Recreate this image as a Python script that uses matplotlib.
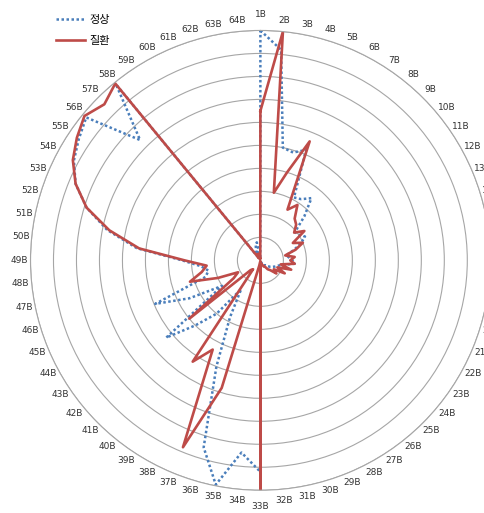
import numpy as np
import matplotlib
matplotlib.use("Agg")
import matplotlib.pyplot as plt

plt.rcParams['font.family'] = ['Noto Sans CJK KR', 'DejaVu Sans']

categories = [f"{i}B" for i in range(1, 65)]

normal = [10.0, 9.2, 5.0, 4.9, 5.2, 3.1, 3.2, 3.5, 2.7, 1.95, 2.0, 2.2, 1.9, 1.5, 1.15, 1.25,
          1.4, 1.5, 1.0, 0.8, 0.7, 0.6, 0.5, 0.4, 0.3, 0.3, 0.2, 0.2, 0.1, 0.1, 0.1, 0.05,
          9.2, 8.4, 9.95, 8.5, 5.0, 2.8, 1.5, 3.0, 4.0, 5.3, 2.0, 3.5, 4.95, 2.5, 2.3, 2.6,
          3.4, 5.4, 6.8, 7.9, 8.7, 9.2, 9.5, 9.8, 7.4, 9.9, 0.1, 0.3, 0.5, 0.7, 0.8, 0.05]

disease = [6.5, 10.0, 3.0, 4.0, 5.6, 2.5, 2.9, 2.35, 2.2, 1.9, 2.3, 1.6, 2.0, 1.6, 1.1, 1.5,
           1.3, 1.5, 0.9, 1.4, 0.8, 1.2, 0.7, 0.9, 0.6, 0.5, 0.3, 0.3, 0.2, 0.2, 0.1, 0.05,
           10.0, 0.05, 0.2, 5.8, 8.8, 4.4, 5.3, 0.5, 0.6, 4.0, 1.4, 1.1, 2.0, 3.2, 2.6, 2.35,
           3.3, 5.3, 6.7, 7.9, 8.7, 9.25, 9.6, 9.9, 9.6, 9.95, 0.1, 0.3, 0.2, 0.3, 0.2, 0.05]

series_names = ["정상", "질환"]

n = len(categories)
angles = np.linspace(0, 2 * np.pi, n, endpoint=False)
closed = np.append(angles, angles[0])

fig = plt.figure(figsize=(4.84, 5.13), dpi=100)
ax = fig.add_axes([0.063, 0.044, 0.950, 0.897], projection="polar")
ax.set_theta_zero_location("N")
ax.set_theta_direction(-1)
ax.set_ylim(0, 10)

ax.set_yticks(np.arange(1, 11))
ax.set_yticklabels([])
ax.set_xticks([])
ax.yaxis.grid(True, color="#a6a6a6", lw=0.8)
ax.xaxis.grid(False)
ax.spines["polar"].set_color("#a6a6a6")
ax.spines["polar"].set_linewidth(0.8)

l1, = ax.plot(closed, np.append(normal, normal[0]), color="#4a7ebb", lw=1.8,
              ls=(0, (1.0, 1.0)), dash_capstyle="butt", label=series_names[0])
l2, = ax.plot(closed, np.append(disease, disease[0]), color="#be4b48", lw=1.9,
              label=series_names[1])

# category labels sit just outside the outer ring; straight up/down ones a bit further out
for ang, name in zip(angles, categories):
    r_lab = 10.7 if np.isclose(abs(np.cos(ang)), 1) else 10.48
    ax.text(ang, r_lab, name, ha="center", va="center", fontsize=6.5,
            color="#333333", family="DejaVu Sans", clip_on=False)

fig.legend(handles=[l1, l2], loc="upper left", bbox_to_anchor=(0.095, 0.99),
           frameon=False, fontsize=8, handlelength=2.6, labelspacing=0.95,
           handletextpad=0.4)

fig.savefig("out.png", dpi=100)
